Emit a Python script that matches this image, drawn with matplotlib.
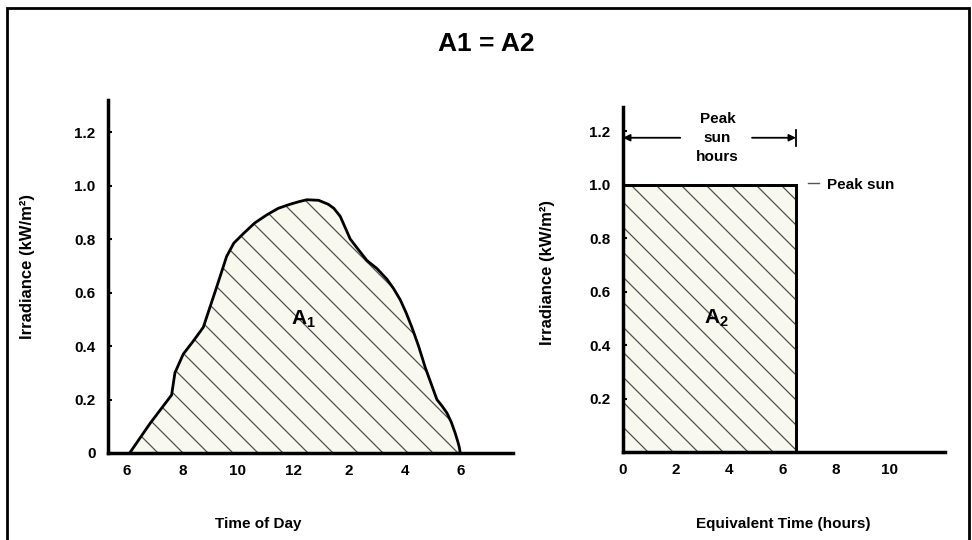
import matplotlib
matplotlib.use("Agg")
import matplotlib.pyplot as plt
from matplotlib.patches import Rectangle
import numpy as np

plt.rcParams['font.family'] = ['Liberation Sans Narrow', 'Liberation Sans', 'DejaVu Sans']
plt.rcParams['font.weight'] = 'bold'
plt.rcParams['axes.labelweight'] = 'bold'
plt.rcParams['mathtext.fontset'] = 'custom'
plt.rcParams['mathtext.rm'] = 'Liberation Sans:bold'
plt.rcParams['mathtext.bf'] = 'Liberation Sans:bold'

# irradiance over a clear day (hours, kW/m2)
hours = [6.1, 6.83, 7.61, 7.73, 8.03, 8.4, 8.75, 9.23, 9.59, 9.85, 10.19, 10.6, 11.03, 11.45,
         11.87, 12.2, 12.48, 12.9, 13.25, 13.45, 13.68, 13.85, 14.04, 14.3, 14.64, 15.0,
         15.36, 15.6, 15.84, 16.05, 16.26, 16.5, 16.74, 16.95, 17.16, 17.35, 17.52, 17.68,
         17.82, 17.92, 17.97, 18.0]
irr = [0.0, 0.11, 0.217, 0.30, 0.37, 0.42, 0.47, 0.62, 0.735, 0.785, 0.82, 0.86, 0.89, 0.915,
       0.93, 0.94, 0.947, 0.945, 0.93, 0.915, 0.885, 0.845, 0.80, 0.765, 0.72, 0.69,
       0.65, 0.615, 0.573, 0.525, 0.47, 0.40, 0.32, 0.26, 0.20, 0.175, 0.15, 0.115,
       0.074, 0.04, 0.02, 0.0]
day_ticks = [6, 8, 10, 12, 14, 16, 18]
day_labels = ["6", "8", "10", "12", "2", "4", "6"]

# equivalent peak sun block
peak_hours = 6.5
peak_sun = 1.0
eq_ticks = [0, 2, 4, 6, 8, 10]
y_ticks = [0, 0.2, 0.4, 0.6, 0.8, 1.0, 1.2]
y_labels = ["0", "0.2", "0.4", "0.6", "0.8", "1.0", "1.2"]

W, H = 972, 540
fig = plt.figure(figsize=(9.72, 5.4), dpi=100)
fill_col = "#f9f8ee"
hatch_col = "#505050"


def hatch(ax, patch, xlim, ylim, pos, step=25):
    # diagonal lines (upper left -> lower right) clipped to the patch
    sx = W * pos[2] / (xlim[1] - xlim[0])
    sy = H * pos[3] / (ylim[1] - ylim[0])
    xs = np.linspace(xlim[0], xlim[1], 2)
    xd = (xs - xlim[0]) * sx
    for c in np.arange(0, W * pos[2] + H * pos[3] + step, step):
        ys = (c - xd) / sy + ylim[0]
        ln, = ax.plot(xs, ys, color=hatch_col, lw=0.9, zorder=2)
        ln.set_clip_path(patch)


def style(ax, xlim, ylim):
    ax.set_xlim(*xlim)
    ax.set_ylim(*ylim)
    for s in ["top", "right"]:
        ax.spines[s].set_visible(False)
    for s in ["left", "bottom"]:
        ax.spines[s].set_linewidth(2.5)
    ax.tick_params(axis="y", direction="in", length=3, width=1.5, pad=9, labelsize=11)
    ax.tick_params(axis="x", length=0, pad=8, labelsize=11)
    ax.patch.set_alpha(0)


# left: time of day
pos1 = [108 / W, 87 / H, 405 / W, 353 / H]
xl1, yl1 = (5.32, 19.9), (0, 1.32)
ax1 = fig.add_axes(pos1)
style(ax1, xl1, yl1)
poly = ax1.fill(hours, irr, color=fill_col, zorder=1)[0]
hatch(ax1, poly, xl1, yl1, pos1)
ax1.plot(hours, irr, color="black", lw=2, zorder=3, solid_joinstyle="round")
ax1.set_xticks(day_ticks, day_labels)
ax1.set_yticks(y_ticks, y_labels)
ax1.text(12.35, 0.5, r"$\mathbf{A_1}$", fontsize=15, ha="center", va="center", zorder=4)
ax1.set_xlabel("Time of Day", fontsize=11)
ax1.xaxis.set_label_coords(0.37, -0.18)
ax1.set_ylabel("Irradiance (kW/m²)", fontsize=12, family=["Liberation Sans", "DejaVu Sans"])
ax1.yaxis.set_label_coords(-0.18, 0.527)

# right: equivalent time
pos2 = [623 / W, 88 / H, 322 / W, 345 / H]
xl2, yl2 = (0, 12.1), (0, 1.29)
ax2 = fig.add_axes(pos2)
style(ax2, xl2, yl2)
rect = ax2.bar(0, peak_sun, width=peak_hours, align="edge", color=fill_col,
               edgecolor="black", lw=2, zorder=1)[0]
hatch(ax2, rect, xl2, yl2, pos2)
ax2.bar(0, peak_sun, width=peak_hours, align="edge", fill=False,
        edgecolor="black", lw=2, zorder=3)
ax2.set_xticks(eq_ticks, [str(t) for t in eq_ticks])
ax2.set_yticks(y_ticks[1:], y_labels[1:])
ax2.text(3.5, 0.5, r"$\mathbf{A_2}$", fontsize=15, ha="center", va="center", zorder=4)
ax2.set_xlabel("Equivalent Time (hours)", fontsize=11)
ax2.xaxis.set_label_coords(0.497, -0.188)
ax2.set_ylabel("Irradiance (kW/m²)", fontsize=12, family=["Liberation Sans", "DejaVu Sans"])
ax2.yaxis.set_label_coords(-0.211, 0.519)

# peak sun hours span arrow
ya = 1.175
ax2.annotate("", xy=(0, ya), xytext=(2.15, ya),
             arrowprops=dict(arrowstyle="-|>", color="black", lw=1.3, mutation_scale=10,
                             shrinkA=0, shrinkB=0))
ax2.annotate("", xy=(peak_hours, ya), xytext=(4.85, ya),
             arrowprops=dict(arrowstyle="-|>", color="black", lw=1.3, mutation_scale=10,
                             shrinkA=0, shrinkB=0))
ax2.plot([peak_hours, peak_hours], [ya - 0.03, ya + 0.03], color="black", lw=1.3)
ax2.text(3.55, ya, "Peak\nsun\nhours", fontsize=11, ha="center", va="center",
         linespacing=1.45)
ax2.plot([6.95, 7.35], [1.005, 1.005], color="#555555", lw=1)
ax2.text(7.65, 1.0, "Peak sun", fontsize=11, ha="left", va="center")

fig.text(486 / W, 1 - 44 / H, "A1 = A2", fontsize=19, ha="center", va="center")

# outer frame
fig.add_artist(Rectangle((7 / W, -0.05), 962 / W, 1.05 - 8 / H, transform=fig.transFigure,
                         fill=False, edgecolor="black", lw=2))

fig.savefig("out.png", dpi=100)
